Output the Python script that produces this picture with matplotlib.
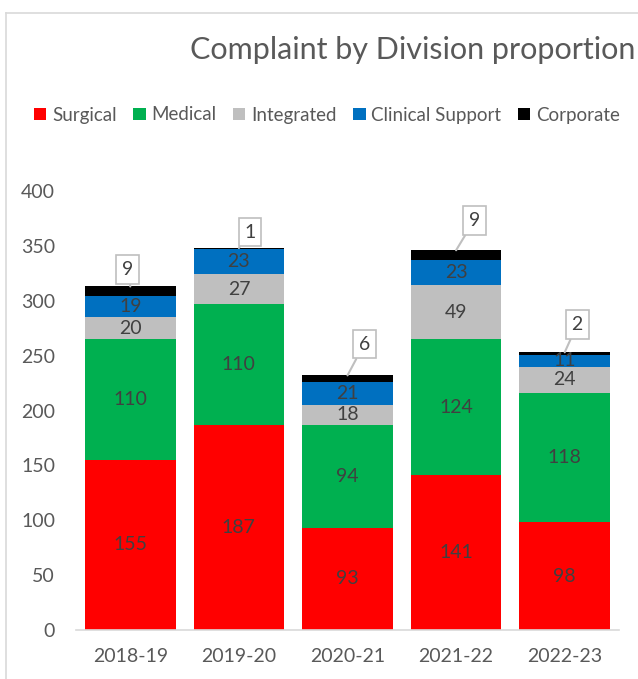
import matplotlib
matplotlib.use("Agg")
import matplotlib.pyplot as plt
import numpy as np
from matplotlib.lines import Line2D
from matplotlib.patches import Patch

categories = ["2018-19", "2019-20", "2020-21", "2021-22", "2022-23"]
surgical = [155, 187, 93, 141, 98]
medical = [110, 110, 94, 124, 118]
integrated = [20, 27, 18, 49, 24]
clinical_support = [19, 23, 21, 23, 11]
corporate = [9, 1, 6, 9, 2]
series_names = ["Surgical", "Medical", "Integrated", "Clinical Support", "Corporate"]
y_ticks = [0, 50, 100, 150, 200, 250, 300, 350, 400]

colors = ["#FF0000", "#00B050", "#BFBFBF", "#0070C0", "#000000"]
plt.rcParams['font.family'] = ['Lato', 'DejaVu Sans']

W, H = 638, 679
fig = plt.figure(figsize=(W / 100, H / 100), dpi=100)
ax = fig.add_axes([76 / W, 1 - 630 / H, (619 - 76) / W, (630 - 191) / H])

series = [surgical, medical, integrated, clinical_support, corporate]
x = np.arange(len(categories))
bottom = np.zeros(len(categories))
width = 0.835
for i, (vals, c) in enumerate(zip(series, colors)):
    vals = np.array(vals, dtype=float)
    ax.bar(x, vals, width, bottom=bottom, color=c, label=series_names[i], zorder=2)
    if i < 4:
        for xi, b, v in zip(x, bottom, vals):
            ax.text(xi, b + v / 2, f"{int(v)}", ha='center', va='center',
                    fontsize=14, color='#404040', zorder=3)
    bottom = bottom + vals

# callouts for corporate (offsets of box centre, in points)
offsets = [(-2, 12), (8, 11.5), (12, 22.5), (13, 21.5), (9, 20)]
for xi, tot, v, off in zip(x, bottom, corporate, offsets):
    ax.annotate(f"{v}", xy=(xi, tot), xytext=off, textcoords='offset points',
                ha='center', va='center', fontsize=14, color='#404040', zorder=5,
                bbox=dict(boxstyle='square,pad=0.3', fc='white', ec='#BFBFBF', lw=1.2),
                arrowprops=dict(arrowstyle='-', color='#BFBFBF', lw=1.5,
                                shrinkA=0, shrinkB=0))

ax.set_xlim(-0.5, 4.5)
ax.set_ylim(0, 400)
ax.set_yticks(y_ticks)
ax.set_yticklabels([str(t) for t in y_ticks])
ax.set_xticks(x)
ax.set_xticklabels(categories)
ax.tick_params(axis='both', length=0, labelsize=14, labelcolor='#595959')
ax.tick_params(axis='y', pad=15)
ax.tick_params(axis='x', pad=13)
for s in ['top', 'right', 'left']:
    ax.spines[s].set_visible(False)
ax.spines['bottom'].set_color('#D9D9D9')
ax.spines['bottom'].set_linewidth(1.2)

# chart border
fig.add_artist(Line2D([6 / W, 1], [1 - 13 / H, 1 - 13 / H], color='#D9D9D9', lw=1.2, transform=fig.transFigure))
fig.add_artist(Line2D([6 / W, 6 / W], [0, 1 - 13 / H], color='#D9D9D9', lw=1.2, transform=fig.transFigure))

fig.text(190 / W, 1 - 50 / H, "Complaint by Division proportion", ha='left', va='center',
         fontsize=22, color='#595959')

handles = [Patch(facecolor=c, edgecolor='none') for c in colors]
fig.legend(handles, series_names, loc='center', bbox_to_anchor=(327 / W, 1 - 115 / H), ncol=5,
           frameon=False, fontsize=13.5, labelcolor='#595959', handlelength=0.65, handleheight=0.65,
           handletextpad=0.3, columnspacing=0.9, borderaxespad=0)

fig.savefig("out.png", dpi=100)
